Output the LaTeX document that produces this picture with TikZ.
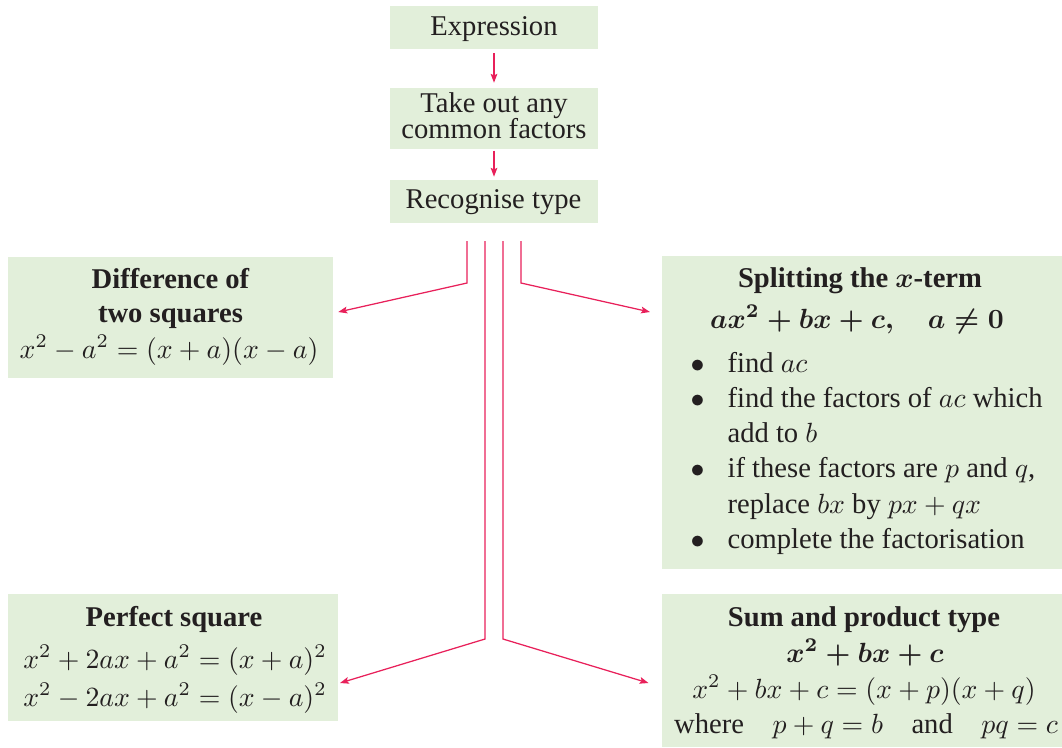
\documentclass[tikz,border=0pt]{standalone}
\usepackage[no-math]{fontspec}
\setmainfont[Scale=1.03]{Liberation Serif}
\usetikzlibrary{arrows.meta}
\definecolor{boxgreen}{HTML}{E2EFDA}
\definecolor{linkred}{HTML}{E8205A}
\definecolor{ink}{HTML}{231F20}
\begin{document}
\begin{tikzpicture}[x=0.36pt,y=-0.36pt,
  box/.style={fill=boxgreen, draw=none, inner sep=0pt, outer sep=0pt},
  txt/.style={inner sep=0pt, anchor=base, text=ink, font=\fontsize{10}{12}\selectfont},
  btxt/.style={txt, font=\fontsize{10}{12}\selectfont\bfseries\boldmath},
  ltxt/.style={txt, anchor=base west},
  flow/.style={draw=linkred, line width=0.45pt, -{Stealth[length=3.2pt,width=2.4pt,inset=0.6pt]}}
]
\useasboundingbox (0,0) rectangle (1062,747);

% boxes
\node[box, minimum width=208*0.36pt, minimum height=43*0.36pt] (expr) at (494,27.5) {};
\node[box, minimum width=208*0.36pt, minimum height=61*0.36pt] (take) at (494,118.5) {};
\node[box, minimum width=208*0.36pt, minimum height=43*0.36pt] (rec) at (494,201.5) {};
\node[box, minimum width=325*0.36pt, minimum height=121*0.36pt] (diff) at (170.5,317.5) {};
\node[box, minimum width=400*0.36pt, minimum height=313*0.36pt] (split) at (862,412.5) {};
\node[box, minimum width=330*0.36pt, minimum height=127*0.36pt] (perf) at (173,657.5) {};
\node[box, minimum width=400*0.36pt, minimum height=153*0.36pt] (sum) at (862,670.5) {};

% texts
\node[txt] (exprT) at (494,35.7) {Expression};
\node[txt] (takeT1) at (494,112.7) {Take out any};
\node[txt] (takeT2) at (494,138) {common factors};
\node[txt] (recT) at (493.5,208) {Recognise type};

\node[btxt] (diffT1) at (170.5,288) {Difference of};
\node[btxt] (diffT2) at (170.5,322) {two squares};
\node[txt] (diffF) at (169,358) {$x^2-a^2=(x+a)(x-a)$};

\node[btxt] (splitT) at (860,287) {Splitting the $x$-term};
\node[btxt] (splitF) at (857,328) {$ax^2+bx+c,\quad a\neq 0$};
\node[txt] (bul1) at (697.5,372) {$\bullet$};
\node[txt] (bul2) at (697.5,407) {$\bullet$};
\node[txt] (bul3) at (697.5,477) {$\bullet$};
\node[txt] (bul4) at (697.5,548) {$\bullet$};
\node[ltxt] (item1) at (727,372) {find $ac$};
\node[ltxt] (item2a) at (727,407) {find the factors of $ac$ which};
\node[ltxt] (item2b) at (727,442) {add to $b$};
\node[ltxt] (item3a) at (727,477) {if these factors are $p$ and $q$,};
\node[ltxt] (item3b) at (727,513) {replace $bx$ by $px+qx$};
\node[ltxt] (item4) at (727,548) {complete the factorisation};

\node[btxt] (perfT) at (174,626) {Perfect square};
\node[txt] (perfF1) at (175,668) {$x^2+2ax+a^2=(x+a)^2$};
\node[txt] (perfF2) at (175,706) {$x^2-2ax+a^2=(x-a)^2$};

\node[btxt] (sumT) at (864,626) {Sum and product type};
\node[btxt] (sumF1) at (865,662) {$x^2+bx+c$};
\node[txt] (sumF2) at (864,698) {$x^2+bx+c=(x+p)(x+q)$};
\node[txt] (sumF3) at (866,733) {where\quad $p+q=b$\quad and\quad $pq=c$};

% connectors
\draw[flow, shorten <=1.55pt, shorten >=1.9pt] (expr.south) -- (take.north);
\draw[flow, shorten <=0.6pt, shorten >=1.2pt] (take.south) -- (rec.north);

\coordinate (s1) at ([shift={(-27,18)}]rec.south);
\coordinate (b1) at ([shift={(-27,60)}]rec.south);
\coordinate (s2) at ([shift={(-9,18)}]rec.south);
\coordinate (b2) at ([shift={(-9,416)}]rec.south);
\coordinate (s3) at ([shift={(9,18)}]rec.south);
\coordinate (b3) at ([shift={(9,416)}]rec.south);
\coordinate (s4) at ([shift={(27,18)}]rec.south);
\coordinate (b4) at ([shift={(27,60)}]rec.south);

\draw[flow] (s1) -- (b1) -- ([shift={(5.3,-5.5)}]diff.east);
\draw[flow] (s4) -- (b4) -- ([shift={(-12,-100.5)}]split.west);
\draw[flow] (s2) -- (b2) -- ([shift={(2,25.5)}]perf.east);
\draw[flow] (s3) -- (b3) -- ([shift={(-13.5,12.5)}]sum.west);
\end{tikzpicture}
\end{document}
